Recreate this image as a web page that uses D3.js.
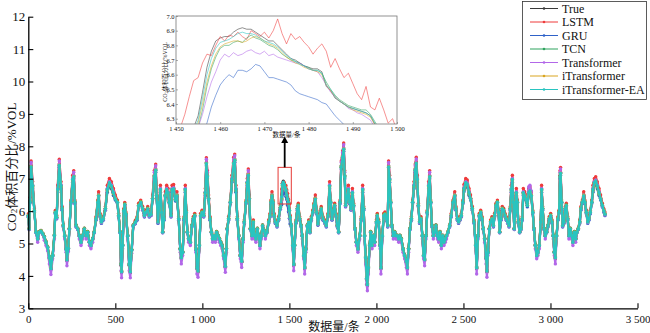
<!DOCTYPE html>
<html>
<head>
<meta charset="utf-8">
<script src="https://cdn.jsdelivr.net/npm/d3@7"></script>
<style>
  body { margin: 0; background: #fff; }
  svg { display: block; }
  text { font-family: "Liberation Serif", "Times New Roman", "Noto Sans CJK SC", serif; fill: #111; }
</style>
</head>
<body>
<svg id="chart" width="650" height="333"></svg>
<script>
// ---- series ----
const seriesNames = ["True", "LSTM", "GRU", "TCN", "Transformer", "iTransformer", "iTransformer-EA"];
const seriesColors = ["#3a3a3a", "#ee3b3b", "#2f62c8", "#2fa35f", "#b267e8", "#d9a520", "#29c4c0"];

// sample number (x) shared by all series of the full record
const sampleIndex = [0,5,10,16,25,35,44,54,63,73,83,92,102,111,121,130,140,150,155,163,169,178,188,194,201,209,217,222,230,236,245,255,261,268,274,284,293,303,312,322,332,341,351,360,370,379,389,399,404,412,420,431,443,454,466,477,489,500,512,519,527,533,536,542,548,554,561,571,580,586,594,603,615,625,634,646,657,667,676,686,695,705,714,724,732,737,745,753,759,766,772,780,787,795,803,810,820,826,835,845,854,864,873,879,887,895,902,908,914,921,931,940,948,956,963,969,975,983,990,998,1008,1017,1023,1029,1036,1044,1052,1059,1067,1075,1082,1090,1098,1105,1113,1122,1132,1138,1143,1151,1161,1170,1180,1186,1193,1201,1209,1218,1226,1234,1241,1251,1258,1264,1270,1276,1285,1293,1300,1308,1316,1323,1331,1339,1346,1354,1362,1371,1381,1389,1394,1400,1406,1412,1419,1429,1438,1448,1456,1460,1465,1470,1475,1480,1485,1490,1495,1500,1504,1511,1519,1525,1530,1538,1546,1551,1559,1567,1574,1582,1588,1595,1603,1611,1618,1626,1634,1641,1649,1657,1664,1674,1683,1693,1703,1712,1722,1731,1737,1745,1752,1760,1768,1775,1783,1791,1798,1806,1812,1818,1823,1831,1839,1846,1854,1862,1869,1877,1885,1894,1904,1913,1921,1927,1932,1938,1944,1948,1954,1961,1967,1975,1982,1990,2000,2005,2013,2021,2026,2034,2042,2049,2057,2065,2070,2076,2082,2089,2097,2105,2112,2120,2128,2135,2143,2153,2162,2172,2178,2185,2193,2201,2208,2216,2223,2229,2235,2241,2248,2256,2264,2271,2277,2285,2292,2300,2306,2312,2319,2327,2335,2342,2350,2358,2365,2373,2381,2388,2396,2403,2411,2421,2430,2440,2450,2457,2465,2472,2480,2488,2497,2503,2513,2522,2532,2541,2551,2561,2570,2576,2584,2591,2599,2607,2614,2622,2630,2635,2641,2649,2656,2664,2672,2679,2687,2695,2702,2708,2716,2723,2731,2739,2746,2754,2762,2769,2775,2781,2787,2792,2798,2804,2810,2815,2823,2831,2838,2844,2852,2859,2867,2875,2882,2890,2898,2905,2913,2921,2928,2936,2944,2949,2955,2963,2970,2978,2986,2993,3001,3009,3016,3022,3028,3035,3043,3049,3055,3058,3064,3070,3078,3085,3091,3099,3106,3114,3122,3129,3137,3145,3152,3160,3168,3175,3183,3191,3198,3206,3214,3221,3229,3237,3244,3252,3260,3269,3279,3288,3298,3307,3313];

const trueValues = [5.85,5.45,6.30,7.40,6.79,6.00,5.35,5.14,5.35,5.38,5.30,5.20,5.04,4.88,4.53,4.20,4.63,5.25,5.95,5.80,6.68,7.45,6.79,6.07,5.55,5.24,4.83,4.47,4.85,5.45,6.27,6.99,7.10,6.27,5.55,5.45,5.24,5.04,5.24,5.45,5.24,5.35,5.04,4.94,5.14,5.35,5.76,6.27,6.48,5.86,5.66,5.76,6.07,6.68,6.89,6.79,6.58,6.38,6.27,5.86,5.35,4.32,4.10,4.94,6.00,6.20,5.90,5.24,4.32,4.10,4.80,5.55,5.65,5.76,6.17,6.27,6.07,5.86,5.96,6.07,5.86,5.90,6.38,7.10,7.30,6.48,5.66,6.27,6.68,5.96,5.35,5.76,6.48,6.68,6.58,6.27,5.86,6.68,6.70,6.35,6.48,5.76,4.83,4.53,4.73,5.76,6.68,5.96,5.35,5.14,5.04,5.55,5.76,5.86,4.83,4.22,4.12,4.94,5.86,5.96,5.86,6.58,7.50,7.10,6.38,5.76,5.35,5.14,5.24,5.14,5.35,5.24,5.14,5.04,4.94,4.63,4.27,4.83,5.45,5.76,6.27,6.99,7.51,7.61,6.68,5.76,5.24,4.63,4.42,5.14,5.66,6.27,6.89,7.15,6.38,5.45,5.24,5.66,5.24,5.14,5.45,5.24,4.94,5.24,5.55,5.40,5.24,5.35,5.66,5.86,6.27,6.48,6.27,5.86,5.66,5.55,5.76,6.10,6.48,6.85,6.92,6.85,6.74,6.65,6.49,6.37,6.26,6.01,5.80,5.55,4.94,4.32,4.94,5.66,6.07,6.17,5.76,5.55,5.24,4.63,4.22,4.83,5.55,5.66,5.35,5.76,5.96,6.17,6.38,5.96,5.60,5.86,6.07,5.76,5.66,5.55,5.86,6.79,6.27,5.76,5.96,6.17,5.86,5.55,5.35,6.27,7.40,7.71,7.95,7.10,6.17,6.38,6.68,6.27,6.07,6.58,6.17,5.45,5.04,4.83,5.24,5.76,6.68,6.07,5.24,4.53,3.90,3.70,4.22,4.94,5.35,4.94,5.24,5.04,5.66,5.86,5.66,4.94,4.22,5.24,5.86,5.90,5.76,5.55,7.40,6.99,6.27,5.55,5.24,5.35,5.24,5.24,5.14,5.24,5.14,4.83,4.63,4.42,4.22,4.83,5.45,5.76,6.27,6.79,7.30,7.51,6.99,6.17,5.66,5.76,5.24,4.63,4.47,5.24,5.96,6.79,7.10,6.27,5.55,5.24,5.35,5.55,5.24,5.14,5.35,4.94,5.24,5.04,5.14,5.24,5.35,5.55,5.86,6.27,6.48,6.07,5.76,5.66,5.76,5.86,6.27,6.70,6.89,6.84,6.58,6.38,6.07,5.66,4.94,4.22,5.24,5.86,5.96,5.76,5.45,5.14,4.53,4.12,4.73,5.45,5.66,5.76,5.55,5.86,6.17,6.27,5.96,5.35,5.76,6.07,6.02,5.86,5.76,5.66,5.55,6.07,6.68,6.99,6.27,5.45,5.96,6.58,6.27,5.66,5.35,5.45,5.76,6.58,6.48,6.38,6.17,6.58,6.63,6.48,5.96,5.45,4.94,4.63,4.73,4.94,5.66,6.68,6.07,5.45,5.24,5.35,5.55,5.76,5.86,5.66,5.24,4.73,4.53,5.24,5.76,5.96,7.10,7.20,6.27,5.55,5.66,6.07,6.17,5.76,5.24,5.45,5.24,5.04,5.35,5.14,5.35,5.45,5.66,6.07,6.27,6.48,6.27,5.96,5.66,5.76,5.96,6.27,6.68,6.89,6.94,6.79,6.58,6.38,6.17,6.00,5.90];

const lstmValues = [5.92,5.47,6.42,7.55,6.91,6.07,5.37,5.16,5.37,5.40,5.32,5.22,5.06,4.90,4.55,4.22,4.65,5.27,6.02,5.87,6.80,7.60,6.91,6.14,5.57,5.26,4.85,4.49,4.87,5.47,6.34,7.11,7.25,6.34,5.57,5.47,5.26,5.06,5.26,5.47,5.26,5.37,5.06,4.96,5.16,5.37,5.83,6.34,6.60,5.93,5.73,5.83,6.14,6.80,7.01,6.91,6.70,6.50,6.34,5.93,5.37,4.34,4.12,4.96,6.07,6.27,5.97,5.26,4.34,4.12,4.82,5.57,5.72,5.83,6.24,6.34,6.14,5.93,6.03,6.14,5.93,5.97,6.50,7.25,7.45,6.60,5.73,6.34,6.80,6.03,5.37,5.83,6.60,6.80,6.70,6.34,5.93,6.80,6.82,6.47,6.60,5.83,4.85,4.55,4.75,5.83,6.80,6.03,5.37,5.16,5.06,5.57,5.83,5.93,4.85,4.24,4.14,4.96,5.93,6.03,5.93,6.70,7.65,7.25,6.50,5.83,5.37,5.16,5.26,5.16,5.37,5.26,5.16,5.06,4.96,4.65,4.29,4.85,5.47,5.83,6.34,7.11,7.66,7.76,6.80,5.83,5.26,4.65,4.44,5.16,5.73,6.34,7.01,7.30,6.50,5.47,5.26,5.73,5.26,5.16,5.47,5.26,4.96,5.26,5.57,5.42,5.26,5.37,5.73,5.93,6.34,6.60,6.34,5.93,5.73,5.57,5.83,6.17,6.68,6.86,6.86,6.89,6.81,6.79,6.65,6.54,6.36,6.22,5.87,5.57,4.96,4.34,4.96,5.73,6.14,6.24,5.83,5.57,5.26,4.65,4.24,4.85,5.57,5.73,5.37,5.83,6.03,6.24,6.50,6.03,5.67,5.93,6.14,5.83,5.73,5.57,5.93,6.91,6.34,5.83,6.03,6.24,5.93,5.57,5.37,6.34,7.55,7.86,8.10,7.25,6.24,6.50,6.80,6.34,6.14,6.70,6.24,5.47,5.06,4.85,5.26,5.83,6.80,6.14,5.26,4.55,3.92,3.72,4.24,4.96,5.37,4.96,5.26,5.06,5.73,5.93,5.73,4.96,4.24,5.26,5.93,5.97,5.83,5.57,7.55,7.11,6.34,5.57,5.26,5.37,5.26,5.26,5.16,5.26,5.16,4.85,4.65,4.44,4.24,4.85,5.47,5.83,6.34,6.91,7.45,7.66,7.11,6.24,5.73,5.83,5.26,4.65,4.49,5.26,6.03,6.91,7.25,6.34,5.57,5.26,5.37,5.57,5.26,5.16,5.37,4.96,5.26,5.06,5.16,5.26,5.37,5.57,5.93,6.34,6.60,6.14,5.83,5.73,5.83,5.93,6.34,6.82,7.01,6.96,6.70,6.50,6.14,5.73,4.96,4.24,5.26,5.93,6.03,5.83,5.47,5.16,4.55,4.14,4.75,5.47,5.73,5.83,5.57,5.93,6.24,6.34,6.03,5.37,5.83,6.14,6.09,5.93,5.83,5.73,5.57,6.14,6.80,7.11,6.34,5.47,6.03,6.70,6.34,5.73,5.37,5.47,5.83,6.70,6.60,6.50,6.24,6.70,6.75,6.60,6.03,5.47,4.96,4.65,4.75,4.96,5.73,6.80,6.14,5.47,5.26,5.37,5.57,5.83,5.93,5.73,5.26,4.75,4.55,5.26,5.83,6.03,7.25,7.35,6.34,5.57,5.73,6.14,6.24,5.83,5.26,5.47,5.26,5.06,5.37,5.16,5.37,5.47,5.73,6.14,6.34,6.60,6.34,6.03,5.73,5.83,6.03,6.34,6.80,7.01,7.06,6.91,6.70,6.50,6.24,6.07,5.97];

const gruValues = [5.81,5.43,6.26,7.30,6.69,5.96,5.33,5.12,5.33,5.36,5.28,5.18,5.02,4.86,4.56,4.23,4.61,5.23,5.91,5.76,6.58,7.35,6.69,6.03,5.51,5.22,4.81,4.50,4.83,5.43,6.23,6.89,7.00,6.23,5.51,5.43,5.22,5.02,5.22,5.43,5.22,5.33,5.02,4.92,5.12,5.33,5.72,6.23,6.44,5.82,5.62,5.72,6.03,6.58,6.79,6.69,6.48,6.34,6.23,5.82,5.33,4.35,4.13,4.92,5.96,6.16,5.86,5.22,4.35,4.13,4.78,5.51,5.61,5.72,6.13,6.23,6.03,5.82,5.92,6.03,5.82,5.86,6.34,7.00,7.20,6.44,5.62,6.23,6.58,5.92,5.33,5.72,6.44,6.58,6.48,6.23,5.82,6.58,6.60,6.31,6.44,5.72,4.81,4.56,4.71,5.72,6.58,5.92,5.33,5.12,5.02,5.51,5.72,5.82,4.81,4.25,4.15,4.92,5.82,5.92,5.82,6.48,7.40,7.00,6.34,5.72,5.33,5.12,5.22,5.12,5.33,5.22,5.12,5.02,4.92,4.61,4.30,4.81,5.43,5.72,6.23,6.89,7.41,7.51,6.58,5.72,5.22,4.61,4.45,5.12,5.62,6.23,6.79,7.05,6.34,5.43,5.22,5.62,5.22,5.12,5.43,5.22,4.92,5.22,5.51,5.38,5.22,5.33,5.62,5.82,6.23,6.44,6.23,5.82,5.62,5.51,5.72,6.06,6.20,6.53,6.63,6.62,6.55,6.45,6.36,6.18,5.98,5.78,5.60,5.51,4.92,4.35,4.92,5.62,6.03,6.13,5.72,5.51,5.22,4.61,4.25,4.81,5.51,5.62,5.33,5.72,5.92,6.13,6.34,5.92,5.56,5.82,6.03,5.72,5.62,5.51,5.82,6.69,6.23,5.72,5.92,6.13,5.82,5.51,5.33,6.23,7.30,7.61,7.85,7.00,6.13,6.34,6.58,6.23,6.03,6.48,6.13,5.43,5.02,4.81,5.22,5.72,6.58,6.03,5.22,4.56,3.93,3.73,4.25,4.92,5.33,4.92,5.22,5.02,5.62,5.82,5.62,4.92,4.25,5.22,5.82,5.86,5.72,5.51,7.30,6.89,6.23,5.51,5.22,5.33,5.22,5.22,5.12,5.22,5.12,4.81,4.61,4.45,4.25,4.81,5.43,5.72,6.23,6.69,7.20,7.41,6.89,6.13,5.62,5.72,5.22,4.61,4.50,5.22,5.92,6.69,7.00,6.23,5.51,5.22,5.33,5.51,5.22,5.12,5.33,4.92,5.22,5.02,5.12,5.22,5.33,5.51,5.82,6.23,6.44,6.03,5.72,5.62,5.72,5.82,6.23,6.60,6.79,6.74,6.48,6.34,6.03,5.62,4.92,4.25,5.22,5.82,5.92,5.72,5.43,5.12,4.56,4.15,4.71,5.43,5.62,5.72,5.51,5.82,6.13,6.23,5.92,5.33,5.72,6.03,5.98,5.82,5.72,5.62,5.51,6.03,6.58,6.89,6.23,5.43,5.92,6.48,6.23,5.62,5.33,5.43,5.72,6.48,6.44,6.34,6.13,6.48,6.53,6.44,5.92,5.43,4.92,4.61,4.71,4.92,5.62,6.58,6.03,5.43,5.22,5.33,5.51,5.72,5.82,5.62,5.22,4.71,4.56,5.22,5.72,5.92,7.00,7.10,6.23,5.51,5.62,6.03,6.13,5.72,5.22,5.43,5.22,5.02,5.33,5.12,5.33,5.43,5.62,6.03,6.23,6.44,6.23,5.92,5.62,5.72,5.92,6.23,6.58,6.79,6.84,6.69,6.48,6.34,6.13,5.96,5.86];

const tcnValues = [5.87,5.47,6.32,7.35,6.74,6.02,5.37,5.16,5.37,5.40,5.32,5.22,5.06,4.90,4.60,4.27,4.65,5.27,5.97,5.82,6.63,7.40,6.74,6.09,5.57,5.26,4.85,4.54,4.87,5.47,6.29,6.94,7.05,6.29,5.57,5.47,5.26,5.06,5.26,5.47,5.26,5.37,5.06,4.96,5.16,5.37,5.78,6.29,6.50,5.88,5.68,5.78,6.09,6.63,6.84,6.74,6.53,6.40,6.29,5.88,5.37,4.39,4.17,4.96,6.02,6.22,5.92,5.26,4.39,4.17,4.82,5.57,5.67,5.78,6.19,6.29,6.09,5.88,5.98,6.09,5.88,5.92,6.40,7.05,7.25,6.50,5.68,6.29,6.63,5.98,5.37,5.78,6.50,6.63,6.53,6.29,5.88,6.63,6.65,6.37,6.50,5.78,4.85,4.60,4.75,5.78,6.63,5.98,5.37,5.16,5.06,5.57,5.78,5.88,4.85,4.29,4.19,4.96,5.88,5.98,5.88,6.53,7.45,7.05,6.40,5.78,5.37,5.16,5.26,5.16,5.37,5.26,5.16,5.06,4.96,4.65,4.34,4.85,5.47,5.78,6.29,6.94,7.46,7.56,6.63,5.78,5.26,4.65,4.49,5.16,5.68,6.29,6.84,7.10,6.40,5.47,5.26,5.68,5.26,5.16,5.47,5.26,4.96,5.26,5.57,5.42,5.26,5.37,5.68,5.88,6.29,6.50,6.29,5.88,5.68,5.57,5.78,6.12,6.36,6.78,6.82,6.82,6.72,6.65,6.50,6.38,6.28,6.03,5.82,5.57,4.96,4.39,4.96,5.68,6.09,6.19,5.78,5.57,5.26,4.65,4.29,4.85,5.57,5.68,5.37,5.78,5.98,6.19,6.40,5.98,5.62,5.88,6.09,5.78,5.68,5.57,5.88,6.74,6.29,5.78,5.98,6.19,5.88,5.57,5.37,6.29,7.35,7.66,7.90,7.05,6.19,6.40,6.63,6.29,6.09,6.53,6.19,5.47,5.06,4.85,5.26,5.78,6.63,6.09,5.26,4.60,3.97,3.77,4.29,4.96,5.37,4.96,5.26,5.06,5.68,5.88,5.68,4.96,4.29,5.26,5.88,5.92,5.78,5.57,7.35,6.94,6.29,5.57,5.26,5.37,5.26,5.26,5.16,5.26,5.16,4.85,4.65,4.49,4.29,4.85,5.47,5.78,6.29,6.74,7.25,7.46,6.94,6.19,5.68,5.78,5.26,4.65,4.54,5.26,5.98,6.74,7.05,6.29,5.57,5.26,5.37,5.57,5.26,5.16,5.37,4.96,5.26,5.06,5.16,5.26,5.37,5.57,5.88,6.29,6.50,6.09,5.78,5.68,5.78,5.88,6.29,6.65,6.84,6.79,6.53,6.40,6.09,5.68,4.96,4.29,5.26,5.88,5.98,5.78,5.47,5.16,4.60,4.19,4.75,5.47,5.68,5.78,5.57,5.88,6.19,6.29,5.98,5.37,5.78,6.09,6.04,5.88,5.78,5.68,5.57,6.09,6.63,6.94,6.29,5.47,5.98,6.53,6.29,5.68,5.37,5.47,5.78,6.53,6.50,6.40,6.19,6.53,6.58,6.50,5.98,5.47,4.96,4.65,4.75,4.96,5.68,6.63,6.09,5.47,5.26,5.37,5.57,5.78,5.88,5.68,5.26,4.75,4.60,5.26,5.78,5.98,7.05,7.15,6.29,5.57,5.68,6.09,6.19,5.78,5.26,5.47,5.26,5.06,5.37,5.16,5.37,5.47,5.68,6.09,6.29,6.50,6.29,5.98,5.68,5.78,5.98,6.29,6.63,6.84,6.89,6.74,6.53,6.40,6.19,6.02,5.92];

const transformerValues = [5.83,5.43,6.32,7.50,6.81,5.98,5.33,5.04,5.33,5.36,5.28,5.10,4.94,4.78,4.37,4.04,4.53,5.15,5.93,5.78,6.70,7.55,6.81,6.05,5.53,5.14,4.73,4.31,4.75,5.43,6.25,7.01,7.20,6.25,5.53,5.43,5.14,4.94,5.14,5.43,5.14,5.33,4.94,4.84,5.04,5.33,5.74,6.25,6.50,5.84,5.64,5.74,6.05,6.70,6.91,6.81,6.60,6.40,6.25,5.84,5.33,4.16,3.94,4.84,5.98,6.18,5.88,5.14,4.16,3.94,4.70,5.53,5.63,5.74,6.15,6.25,6.05,5.84,5.94,6.05,5.84,5.88,6.40,7.20,7.40,6.50,5.64,6.25,6.70,5.94,5.33,5.74,6.50,6.70,6.60,6.25,5.84,6.70,6.72,6.37,6.50,5.74,4.73,4.37,4.63,5.74,6.70,5.94,5.33,5.04,4.94,5.53,5.74,5.84,4.73,4.06,3.96,4.84,5.84,5.94,5.84,6.60,7.60,7.20,6.40,5.74,5.33,5.04,5.14,5.04,5.33,5.14,5.04,4.94,4.84,4.53,4.11,4.73,5.43,5.74,6.25,7.01,7.61,7.71,6.70,5.74,5.14,4.53,4.26,5.04,5.64,6.25,6.91,7.25,6.40,5.43,5.14,5.64,5.14,5.04,5.43,5.14,4.84,5.14,5.53,5.38,5.14,5.33,5.64,5.84,6.25,6.50,6.25,5.84,5.64,5.53,5.74,6.08,6.33,6.70,6.74,6.76,6.70,6.64,6.48,6.36,6.24,5.98,5.78,5.53,4.84,4.16,4.84,5.64,6.05,6.15,5.74,5.53,5.14,4.53,4.06,4.73,5.53,5.64,5.33,5.74,5.94,6.15,6.40,5.94,5.58,5.84,6.05,5.74,5.64,5.53,5.84,6.81,6.25,5.74,5.94,6.15,5.84,5.53,5.33,6.25,7.50,7.81,8.05,7.20,6.15,6.40,6.70,6.25,6.05,6.60,6.15,5.43,4.94,4.73,5.14,5.74,6.70,6.05,5.14,4.37,3.74,3.54,4.06,4.84,5.33,4.84,5.14,4.94,5.64,5.84,5.64,4.84,4.06,5.14,5.84,5.88,5.74,5.53,7.50,7.01,6.25,5.53,5.14,5.33,5.14,5.14,5.04,5.14,5.04,4.73,4.53,4.26,4.06,4.73,5.43,5.74,6.25,6.81,7.40,7.61,7.01,6.15,5.64,5.74,5.14,4.53,4.31,5.14,5.94,6.81,7.20,6.25,5.53,5.14,5.33,5.53,5.14,5.04,5.33,4.84,5.14,4.94,5.04,5.14,5.33,5.53,5.84,6.25,6.50,6.05,5.74,5.64,5.74,5.84,6.25,6.72,6.91,6.86,6.60,6.40,6.05,5.64,4.84,4.06,5.14,5.84,5.94,5.74,5.43,5.04,4.37,3.96,4.63,5.43,5.64,5.74,5.53,5.84,6.15,6.25,5.94,5.33,5.74,6.05,6.00,5.84,5.74,5.64,5.53,6.05,6.70,7.01,6.25,5.43,5.94,6.60,6.25,5.64,5.33,5.43,5.74,6.60,6.50,6.40,6.35,6.75,6.80,6.62,5.94,5.43,4.84,4.53,4.63,4.84,5.64,6.70,6.05,5.43,5.14,5.33,5.53,5.74,5.84,5.64,5.14,4.63,4.37,5.14,5.74,5.94,7.20,7.30,6.25,5.53,5.64,6.05,6.15,5.74,5.14,5.43,5.14,4.94,5.33,5.04,5.33,5.43,5.64,6.05,6.25,6.50,6.25,5.94,5.64,5.74,5.94,6.25,6.70,6.91,6.96,6.81,6.60,6.40,6.15,5.98,5.88];

const iTransformerValues = [5.86,5.46,6.31,7.37,6.76,6.01,5.36,5.15,5.36,5.39,5.31,5.21,5.05,4.89,4.57,4.24,4.64,5.26,5.96,5.81,6.65,7.42,6.76,6.08,5.56,5.25,4.84,4.51,4.86,5.46,6.28,6.96,7.07,6.28,5.56,5.46,5.25,5.05,5.25,5.46,5.25,5.36,5.05,4.95,5.15,5.36,5.77,6.28,6.49,5.87,5.67,5.77,6.08,6.65,6.86,6.76,6.55,6.39,6.28,5.87,5.36,4.36,4.14,4.95,6.01,6.21,5.91,5.25,4.36,4.14,4.81,5.56,5.66,5.77,6.18,6.28,6.08,5.87,5.97,6.08,5.87,5.91,6.39,7.07,7.27,6.49,5.67,6.28,6.65,5.97,5.36,5.77,6.49,6.65,6.55,6.28,5.87,6.65,6.67,6.36,6.49,5.77,4.84,4.57,4.74,5.77,6.65,5.97,5.36,5.15,5.05,5.56,5.77,5.87,4.84,4.26,4.16,4.95,5.87,5.97,5.87,6.55,7.47,7.07,6.39,5.77,5.36,5.15,5.25,5.15,5.36,5.25,5.15,5.05,4.95,4.64,4.31,4.84,5.46,5.77,6.28,6.96,7.48,7.58,6.65,5.77,5.25,4.64,4.46,5.15,5.67,6.28,6.86,7.12,6.39,5.46,5.25,5.67,5.25,5.15,5.46,5.25,4.95,5.25,5.56,5.41,5.25,5.36,5.67,5.87,6.28,6.49,6.28,5.87,5.67,5.56,5.77,6.11,6.40,6.79,6.82,6.83,6.72,6.64,6.49,6.36,6.26,6.01,5.81,5.56,4.95,4.36,4.95,5.67,6.08,6.18,5.77,5.56,5.25,4.64,4.26,4.84,5.56,5.67,5.36,5.77,5.97,6.18,6.39,5.97,5.61,5.87,6.08,5.77,5.67,5.56,5.87,6.76,6.28,5.77,5.97,6.18,5.87,5.56,5.36,6.28,7.37,7.68,7.92,7.07,6.18,6.39,6.65,6.28,6.08,6.55,6.18,5.46,5.05,4.84,5.25,5.77,6.65,6.08,5.25,4.57,3.94,3.74,4.26,4.95,5.36,4.95,5.25,5.05,5.67,5.87,5.67,4.95,4.26,5.25,5.87,5.91,5.77,5.56,7.37,6.96,6.28,5.56,5.25,5.36,5.25,5.25,5.15,5.25,5.15,4.84,4.64,4.46,4.26,4.84,5.46,5.77,6.28,6.76,7.27,7.48,6.96,6.18,5.67,5.77,5.25,4.64,4.51,5.25,5.97,6.76,7.07,6.28,5.56,5.25,5.36,5.56,5.25,5.15,5.36,4.95,5.25,5.05,5.15,5.25,5.36,5.56,5.87,6.28,6.49,6.08,5.77,5.67,5.77,5.87,6.28,6.67,6.86,6.81,6.55,6.39,6.08,5.67,4.95,4.26,5.25,5.87,5.97,5.77,5.46,5.15,4.57,4.16,4.74,5.46,5.67,5.77,5.56,5.87,6.18,6.28,5.97,5.36,5.77,6.08,6.03,5.87,5.77,5.67,5.56,6.08,6.65,6.96,6.28,5.46,5.97,6.55,6.28,5.67,5.36,5.46,5.77,6.55,6.49,6.39,6.18,6.55,6.60,6.49,5.97,5.46,4.95,4.64,4.74,4.95,5.67,6.65,6.08,5.46,5.25,5.36,5.56,5.77,5.87,5.67,5.25,4.74,4.57,5.25,5.77,5.97,7.07,7.17,6.28,5.56,5.67,6.08,6.18,5.77,5.25,5.46,5.25,5.05,5.36,5.15,5.36,5.46,5.67,6.08,6.28,6.49,6.28,5.97,5.67,5.77,5.97,6.28,6.65,6.86,6.91,6.76,6.55,6.39,6.18,6.01,5.91];

const iTransformerEAValues = [5.85,5.45,6.29,7.36,6.78,6.00,5.35,5.14,5.35,5.38,5.30,5.20,5.04,4.88,4.56,4.23,4.63,5.25,5.95,5.80,6.67,7.41,6.78,6.07,5.55,5.24,4.83,4.50,4.85,5.45,6.27,6.98,7.06,6.27,5.55,5.45,5.24,5.04,5.24,5.45,5.24,5.35,5.04,4.94,5.14,5.35,5.76,6.27,6.47,5.86,5.66,5.76,6.07,6.67,6.88,6.78,6.57,6.37,6.27,5.86,5.35,4.35,4.13,4.94,6.00,6.20,5.90,5.24,4.35,4.13,4.80,5.55,5.65,5.76,6.17,6.27,6.07,5.86,5.96,6.07,5.86,5.90,6.37,7.06,7.26,6.47,5.66,6.27,6.67,5.96,5.35,5.76,6.47,6.67,6.57,6.27,5.86,6.67,6.69,6.34,6.47,5.76,4.83,4.56,4.73,5.76,6.67,5.96,5.35,5.14,5.04,5.55,5.76,5.86,4.83,4.25,4.15,4.94,5.86,5.96,5.86,6.57,7.46,7.06,6.37,5.76,5.35,5.14,5.24,5.14,5.35,5.24,5.14,5.04,4.94,4.63,4.30,4.83,5.45,5.76,6.27,6.98,7.47,7.57,6.67,5.76,5.24,4.63,4.45,5.14,5.66,6.27,6.88,7.11,6.37,5.45,5.24,5.66,5.24,5.14,5.45,5.24,4.94,5.24,5.55,5.40,5.24,5.35,5.66,5.86,6.27,6.47,6.27,5.86,5.66,5.55,5.76,6.10,6.44,6.82,6.89,6.83,6.73,6.64,6.50,6.37,6.27,6.02,5.80,5.55,4.94,4.35,4.94,5.66,6.07,6.17,5.76,5.55,5.24,4.63,4.25,4.83,5.55,5.66,5.35,5.76,5.96,6.17,6.37,5.96,5.60,5.86,6.07,5.76,5.66,5.55,5.86,6.78,6.27,5.76,5.96,6.17,5.86,5.55,5.35,6.27,7.36,7.67,7.91,7.06,6.17,6.37,6.67,6.27,6.07,6.57,6.17,5.45,5.04,4.83,5.24,5.76,6.67,6.07,5.24,4.56,3.93,3.73,4.25,4.94,5.35,4.94,5.24,5.04,5.66,5.86,5.66,4.94,4.25,5.24,5.86,5.90,5.76,5.55,7.36,6.98,6.27,5.55,5.24,5.35,5.24,5.24,5.14,5.24,5.14,4.83,4.63,4.45,4.25,4.83,5.45,5.76,6.27,6.78,7.26,7.47,6.98,6.17,5.66,5.76,5.24,4.63,4.50,5.24,5.96,6.78,7.06,6.27,5.55,5.24,5.35,5.55,5.24,5.14,5.35,4.94,5.24,5.04,5.14,5.24,5.35,5.55,5.86,6.27,6.47,6.07,5.76,5.66,5.76,5.86,6.27,6.69,6.88,6.83,6.57,6.37,6.07,5.66,4.94,4.25,5.24,5.86,5.96,5.76,5.45,5.14,4.56,4.15,4.73,5.45,5.66,5.76,5.55,5.86,6.17,6.27,5.96,5.35,5.76,6.07,6.02,5.86,5.76,5.66,5.55,6.07,6.67,6.98,6.27,5.45,5.96,6.57,6.27,5.66,5.35,5.45,5.76,6.57,6.47,6.37,6.17,6.57,6.62,6.47,5.96,5.45,4.94,4.63,4.73,4.94,5.66,6.67,6.07,5.45,5.24,5.35,5.55,5.76,5.86,5.66,5.24,4.73,4.56,5.24,5.76,5.96,7.06,7.16,6.27,5.55,5.66,6.07,6.17,5.76,5.24,5.45,5.24,5.04,5.35,5.14,5.35,5.45,5.66,6.07,6.27,6.47,6.27,5.96,5.66,5.76,5.96,6.27,6.67,6.88,6.93,6.78,6.57,6.37,6.17,6.00,5.90];

// ---- detail window, samples 1450-1500 ----
const detailTrue = [6.05,6.10,6.15,6.20,6.24,6.32,6.48,6.65,6.76,6.83,6.85,6.86,6.86,6.89,6.91,6.92,6.91,6.91,6.89,6.87,6.85,6.83,6.83,6.80,6.77,6.74,6.71,6.70,6.68,6.66,6.65,6.64,6.64,6.62,6.52,6.49,6.44,6.42,6.40,6.38,6.37,6.36,6.35,6.34,6.32,6.26,6.21,6.16,6.11,6.06,6.01];
const detailLSTM = [6.20,6.24,6.33,6.45,6.56,6.58,6.68,6.74,6.73,6.80,6.86,6.83,6.87,6.86,6.89,6.86,6.84,6.90,6.88,6.86,6.89,6.85,6.90,6.98,6.88,6.81,6.88,6.84,6.86,6.82,6.79,6.74,6.78,6.81,6.76,6.65,6.71,6.64,6.58,6.61,6.54,6.47,6.43,6.52,6.38,6.36,6.44,6.36,6.27,6.30,6.22];
const detailGRU = [5.90,5.95,6.00,6.05,6.10,6.15,6.20,6.27,6.38,6.46,6.53,6.57,6.60,6.58,6.63,6.63,6.62,6.64,6.67,6.66,6.62,6.58,6.58,6.57,6.56,6.55,6.53,6.49,6.47,6.46,6.45,6.44,6.43,6.41,6.40,6.36,6.32,6.29,6.26,6.22,6.18,6.14,6.10,6.06,6.02,5.98,5.94,5.90,5.86,5.82,5.78];
const detailTCN = [5.98,6.03,6.08,6.13,6.18,6.24,6.36,6.52,6.64,6.72,6.78,6.80,6.80,6.82,6.83,6.82,6.85,6.87,6.85,6.84,6.82,6.80,6.79,6.77,6.74,6.72,6.70,6.69,6.68,6.66,6.65,6.63,6.63,6.61,6.55,6.50,6.46,6.43,6.41,6.39,6.38,6.37,6.36,6.36,6.33,6.28,6.23,6.18,6.13,6.08,6.03];
const detailTransformer = [5.95,6.00,6.06,6.12,6.18,6.24,6.33,6.45,6.55,6.62,6.70,6.74,6.72,6.75,6.73,6.74,6.76,6.77,6.75,6.74,6.76,6.73,6.74,6.72,6.71,6.70,6.69,6.68,6.68,6.66,6.64,6.63,6.62,6.58,6.53,6.48,6.45,6.42,6.40,6.37,6.36,6.34,6.33,6.31,6.29,6.24,6.18,6.13,6.08,6.03,5.98];
const detailITransformer = [6.00,6.05,6.10,6.15,6.20,6.27,6.40,6.55,6.66,6.74,6.79,6.81,6.82,6.83,6.83,6.82,6.83,6.85,6.86,6.85,6.83,6.81,6.80,6.78,6.75,6.72,6.70,6.68,6.67,6.65,6.64,6.63,6.62,6.60,6.53,6.49,6.45,6.42,6.40,6.38,6.36,6.35,6.34,6.33,6.31,6.26,6.21,6.16,6.11,6.06,6.01];
const detailITransformerEA = [6.02,6.07,6.12,6.17,6.22,6.29,6.44,6.60,6.71,6.78,6.82,6.83,6.84,6.86,6.88,6.89,6.88,6.88,6.87,6.85,6.83,6.82,6.81,6.79,6.76,6.73,6.71,6.69,6.67,6.66,6.64,6.63,6.63,6.61,6.53,6.50,6.45,6.42,6.40,6.38,6.37,6.36,6.35,6.34,6.32,6.27,6.22,6.17,6.12,6.07,6.02];

// ---- axes ----
const xTicks = [0, 500, 1000, 1500, 2000, 2500, 3000, 3500];
const yTicks = [3, 4, 5, 6, 7, 8, 9, 10, 11, 12];
const detailXTicks = [1450, 1460, 1470, 1480, 1490, 1500];
const detailYTicks = [6.3, 6.4, 6.5, 6.6, 6.7, 6.8, 6.9, 7.0];
// highlighted region on the main plot (sample range, value range)
const highlightSamples = [1435, 1511];
const highlightValues = [6.22, 7.35];

const mainSeries = [trueValues, lstmValues, gruValues, tcnValues, transformerValues, iTransformerValues, iTransformerEAValues];
const detailSeries = [detailTrue, detailLSTM, detailGRU, detailTCN, detailTransformer, detailITransformer, detailITransformerEA];
const detailIndex = d3.range(1450, 1501);

const svg = d3.select("#chart");
const serif = '"Liberation Serif", "Times New Roman", "Noto Sans CJK SC", serif';
const spaced = d3.formatLocale({decimal: ".", thousands: " ", grouping: [3], currency: ["", ""]}).format(",");

// main scales
const x = d3.scaleLinear().domain([0, 3500]).range([28.3, 637.5]);
const y = d3.scaleLinear().domain([3, 12]).range([308.3, 16.7]);

// series: line + dot markers
const line = d3.line().x(d => x(d[0])).y(d => y(d[1]));
const plot = svg.append("g");
mainSeries.forEach((vals, s) => {
  const pts = sampleIndex.map((k, i) => [k, vals[i]]);
  const g = plot.append("g");
  g.append("path").datum(pts).attr("d", line)
    .attr("fill", "none").attr("stroke", seriesColors[s]).attr("stroke-width", 2.2)
    .attr("stroke-linejoin", "round");
  g.selectAll("circle").data(pts).join("circle")
    .attr("cx", d => x(d[0])).attr("cy", d => y(d[1])).attr("r", 1.7)
    .attr("fill", seriesColors[s]);
});

// axes (ticks point inwards)
const styleAxis = (g, size) => {
  g.attr("font-family", serif).attr("font-size", size);
  g.select(".domain").attr("stroke", "#000").attr("stroke-width", 1.3);
  g.selectAll(".tick line").attr("stroke", "#000").attr("stroke-width", 1.1);
  g.selectAll(".tick text").attr("fill", "#111");
};
svg.append("g").attr("transform", `translate(0,${y(3)})`)
  .call(d3.axisBottom(x).tickValues(xTicks).tickFormat(spaced).tickSizeInner(-5).tickSizeOuter(0).tickPadding(7))
  .call(g => styleAxis(g, 11));
svg.append("g").attr("transform", `translate(${x(0)},0)`)
  .call(d3.axisLeft(y).tickValues(yTicks).tickFormat(d3.format("d")).tickSizeInner(-5).tickSizeOuter(0).tickPadding(3))
  .call(g => styleAxis(g, 13));

// axis titles
const yTitle = svg.append("text")
  .attr("transform", `translate(11,${167}) rotate(-90)`)
  .attr("text-anchor", "middle").attr("dominant-baseline", "central")
  .attr("font-size", 13).attr("font-family", serif);
yTitle.append("tspan").text("CO");
yTitle.append("tspan").text("2").attr("font-size", 9).attr("dy", 3);
yTitle.append("tspan").text("体积百分比/%VOL").attr("dy", -3);
svg.append("text").attr("x", 334).attr("y", 327)
  .attr("text-anchor", "middle").attr("dominant-baseline", "central")
  .attr("font-size", 12).text("数据量/条");

// highlight box + arrow to the detail panel
const hx0 = x(highlightSamples[0]), hx1 = x(highlightSamples[1]);
const hy0 = y(highlightValues[1]), hy1 = y(highlightValues[0]);
svg.append("rect").attr("x", hx0).attr("y", hy0).attr("width", hx1 - hx0).attr("height", hy1 - hy0)
  .attr("fill", "none").attr("stroke", "#e53935").attr("stroke-width", 1);
const ax = (hx0 + hx1) / 2;
svg.append("line").attr("x1", ax).attr("x2", ax).attr("y1", hy0).attr("y2", 142)
  .attr("stroke", "#000").attr("stroke-width", 1.8);
svg.append("path").attr("d", `M${ax - 3.5},143 L${ax + 3.5},143 L${ax},136.5 Z`).attr("fill", "#000");

// ---- detail panel ----
const xd = d3.scaleLinear().domain([1450, 1500]).range([176, 397]);
const yd = d3.scaleLinear().domain([6.264, 7.0]).range([124, 16]);
const detail = svg.append("g");
detail.append("rect").attr("x", 176).attr("y", 16).attr("width", 221).attr("height", 108)
  .attr("fill", "#fff");
svg.append("clipPath").attr("id", "detail-clip").append("rect")
  .attr("x", 176).attr("y", 16).attr("width", 221).attr("height", 108);
const dline = d3.line().x(d => xd(d[0])).y(d => yd(d[1]));
const dlines = detail.append("g").attr("clip-path", "url(#detail-clip)");
detailSeries.forEach((vals, s) => {
  dlines.append("path").datum(detailIndex.map((k, i) => [k, vals[i]]))
    .attr("d", dline).attr("fill", "none").attr("stroke", seriesColors[s])
    .attr("stroke-width", 0.8).attr("stroke-opacity", 0.7);
});
detail.append("rect").attr("x", 176).attr("y", 16).attr("width", 221).attr("height", 108)
  .attr("fill", "none").attr("stroke", "#777").attr("stroke-width", 0.8);
const styleDetailAxis = g => {
  g.attr("font-family", serif).attr("font-size", 6.5);
  g.select(".domain").remove();
  g.selectAll(".tick line").attr("stroke", "#777").attr("stroke-width", 0.6);
  g.selectAll(".tick text").attr("fill", "#333");
};
detail.append("g").attr("transform", "translate(0,124)")
  .call(d3.axisBottom(xd).tickValues(detailXTicks).tickFormat(spaced).tickSizeInner(-2).tickSizeOuter(0).tickPadding(2.5))
  .call(styleDetailAxis);
detail.append("g").attr("transform", "translate(176,0)")
  .call(d3.axisLeft(yd).tickValues(detailYTicks).tickFormat(d3.format(".1f")).tickSizeInner(-2).tickSizeOuter(0).tickPadding(1.5))
  .call(styleDetailAxis);
const dyTitle = detail.append("text")
  .attr("transform", "translate(164.5,72) rotate(-90)")
  .attr("text-anchor", "middle").attr("dominant-baseline", "central")
  .attr("font-size", 6).attr("font-family", serif).attr("fill", "#333");
dyTitle.append("tspan").text("CO");
dyTitle.append("tspan").text("2").attr("font-size", 4.5).attr("dy", 1.5);
dyTitle.append("tspan").text("体积百分比/%VOL").attr("dy", -1.5);
detail.append("text").attr("x", 286.5).attr("y", 134)
  .attr("text-anchor", "middle").attr("dominant-baseline", "central")
  .attr("font-size", 6.5).attr("fill", "#333").text("数据量/条");

// ---- legend ----
const legend = svg.append("g");
legend.append("rect").attr("x", 522.5).attr("y", 1.5).attr("width", 124).attr("height", 98)
  .attr("fill", "#fff").attr("stroke", "#333").attr("stroke-width", 0.8);
seriesNames.forEach((name, i) => {
  const ly = 8.5 + i * 13.5;
  legend.append("line").attr("x1", 530).attr("x2", 558).attr("y1", ly).attr("y2", ly)
    .attr("stroke", seriesColors[i]).attr("stroke-width", 1);
  legend.append("circle").attr("cx", 544).attr("cy", ly).attr("r", 1.3).attr("fill", seriesColors[i]);
  legend.append("text").attr("x", 562).attr("y", ly).attr("dominant-baseline", "central")
    .attr("font-size", 12).text(name);
});
</script>
</body>
</html>
